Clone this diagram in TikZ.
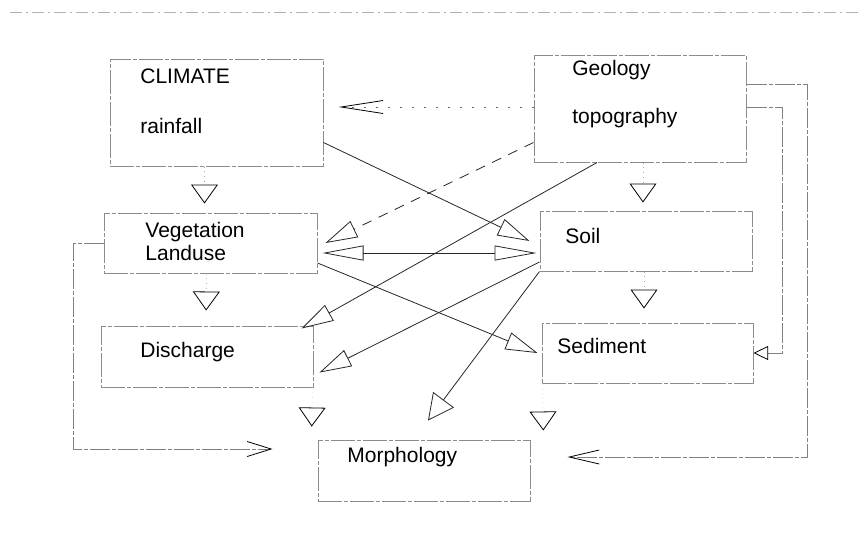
\documentclass[tikz,border=0pt]{standalone}
\usepackage{fontspec}
\setmainfont{Liberation Sans}
\usetikzlibrary{arrows.meta,fit}

\begin{document}
\begin{tikzpicture}[
  x=0.5pt, y=-0.5pt,
  box/.style={
    draw=black!45,
    line width=0.5pt,
    dash pattern=on 12pt off 1pt on 2pt off 1pt,
    inner sep=0pt
  },
  txt/.style={
    font=\fontsize{10.5}{12}\selectfont,
    inner sep=0pt,
    anchor=base west
  },
  link/.style={draw=black!85, line width=0.4pt},
  tri/.style={link, -{Triangle[open, length=16pt, width=9pt]}},
  downtri/.style={
    draw=black!35, dotted,
    -{Triangle[open, length=9.5pt, width=13.5pt, color=black]}
  },
  feedback/.style={draw=black!50, dash pattern=on 10pt off 1pt on 2pt off 1pt}
]
\useasboundingbox (0,0) rectangle (858,532);

% scanner edge
\draw[black!30, dash pattern=on 6pt off 2pt on 1pt off 2pt] (10,12) -- (858,12);

% Boxes
\node[box, fit={(110,59) (323,166)}] (climate) {};
\node[box, fit={(534,55) (746,162)}] (geology) {};
\node[box, fit={(104,213) (317,273)}] (veg) {};
\node[box, fit={(540,211) (752,271)}] (soil) {};
\node[box, fit={(101,326) (313,387)}] (discharge) {};
\node[box, fit={(542,323) (753,383)}] (sediment) {};
\node[box, fit={(318,440) (530,501)}] (morph) {};

% Labels
\node[txt] (climatetxt) at (140,83) {CLIMATE};
\node[txt] (raintxt) at (140,133) {rainfall};
\node[txt] (geotxt) at (572,75) {Geology};
\node[txt] (topotxt) at (572,123) {topography};
\node[txt] (vegtxt) at (145,237) {Vegetation};
\node[txt] (landtxt) at (145,260) {Landuse};
\node[txt] (soiltxt) at (565,243) {Soil};
\node[txt] (dischtxt) at (140,357) {Discharge};
\node[txt] (sedtxt) at (557,353) {Sediment};
\node[txt] (morphtxt) at (347,462) {Morphology};

% Down arrows between boxes
\draw[downtri, shorten >=4.5pt] ([xshift=-6pt]climate.south) -- ([xshift=-3pt]veg.north);
\draw[downtri, shorten >=4pt] ([xshift=1.5pt]geology.south) -- ([xshift=-1.5pt]soil.north);
\draw[downtri, shorten >=7.5pt] ([xshift=-2pt]veg.south) -- ([xshift=-0.5pt]discharge.north);
\draw[downtri, shorten >=7pt] ([xshift=-1pt]soil.south) -- ([xshift=-1.75pt]sediment.north);
\draw[downtri, draw=black!15, shorten >=6.5pt] ([xshift=-0.5pt]discharge.south east) -- ([xshift=-3pt]morph.north west);
\draw[downtri, draw=black!15, shorten >=4.5pt] ([xshift=0.5pt]sediment.south west) -- ([xshift=6.5pt]morph.north east);

% Cross links
\draw[link, draw=black!60, dash pattern=on 1pt off 5pt,
  -{Straight Barb[length=21pt, width=6.5pt, color=black]}, shorten >=7.5pt]
  ([yshift=0.75pt]geology.west) -- ([yshift=0.75pt]geology.west -| climate.east);
\draw[tri] ([yshift=-15pt]climate.east) -- ([xshift=-5pt]soil.west);
\draw[tri, dash pattern=on 5pt off 4pt] ([yshift=-17pt]geology.west) -- ([xshift=4pt]veg.east);
\draw[link, {Triangle[open, length=20.5pt, width=7.5pt]}-{Triangle[open, length=21pt, width=7.5pt]},
  shorten <=2.5pt, shorten >=1.5pt]
  ([yshift=-5pt]veg.east) -- ([yshift=-5pt]veg.east -| soil.west);
\draw[tri] ([yshift=-10pt]veg.east) -- ([xshift=-2pt]sediment.west);
\draw[tri] ([xshift=-21.5pt]geology.south) -- ([shift={(-6pt,-1.5pt)}]discharge.north east);
\draw[tri] ([yshift=-10.5pt]soil.west) -- ([shift={(3pt,-8pt)}]discharge.east);
\draw[link, -{Triangle[open, length=13pt, width=13pt]}]
  (soil.south west) -- ([shift={(2pt,9.5pt)}]morph.north);

% Feedback loops
\draw[feedback, -{Straight Barb[length=12pt, width=7.5pt, color=black]}, shorten >=22.5pt]
  (veg.west) -- ++(-30,0) |- ([yshift=10.75pt]morph.west);
\draw[feedback, -{Straight Barb[length=15pt, width=7pt, color=black]}, shorten >=18.5pt]
  ([yshift=12pt]geology.east) -- ++(61,0) |- ([yshift=6.75pt]morph.east);
\draw[feedback, -{Triangle[open, length=7.3pt, width=7pt, color=black]}]
  ([yshift=0.75pt]geology.east) -- ++(36,0) |- (sediment.east);

\end{tikzpicture}
\end{document}
